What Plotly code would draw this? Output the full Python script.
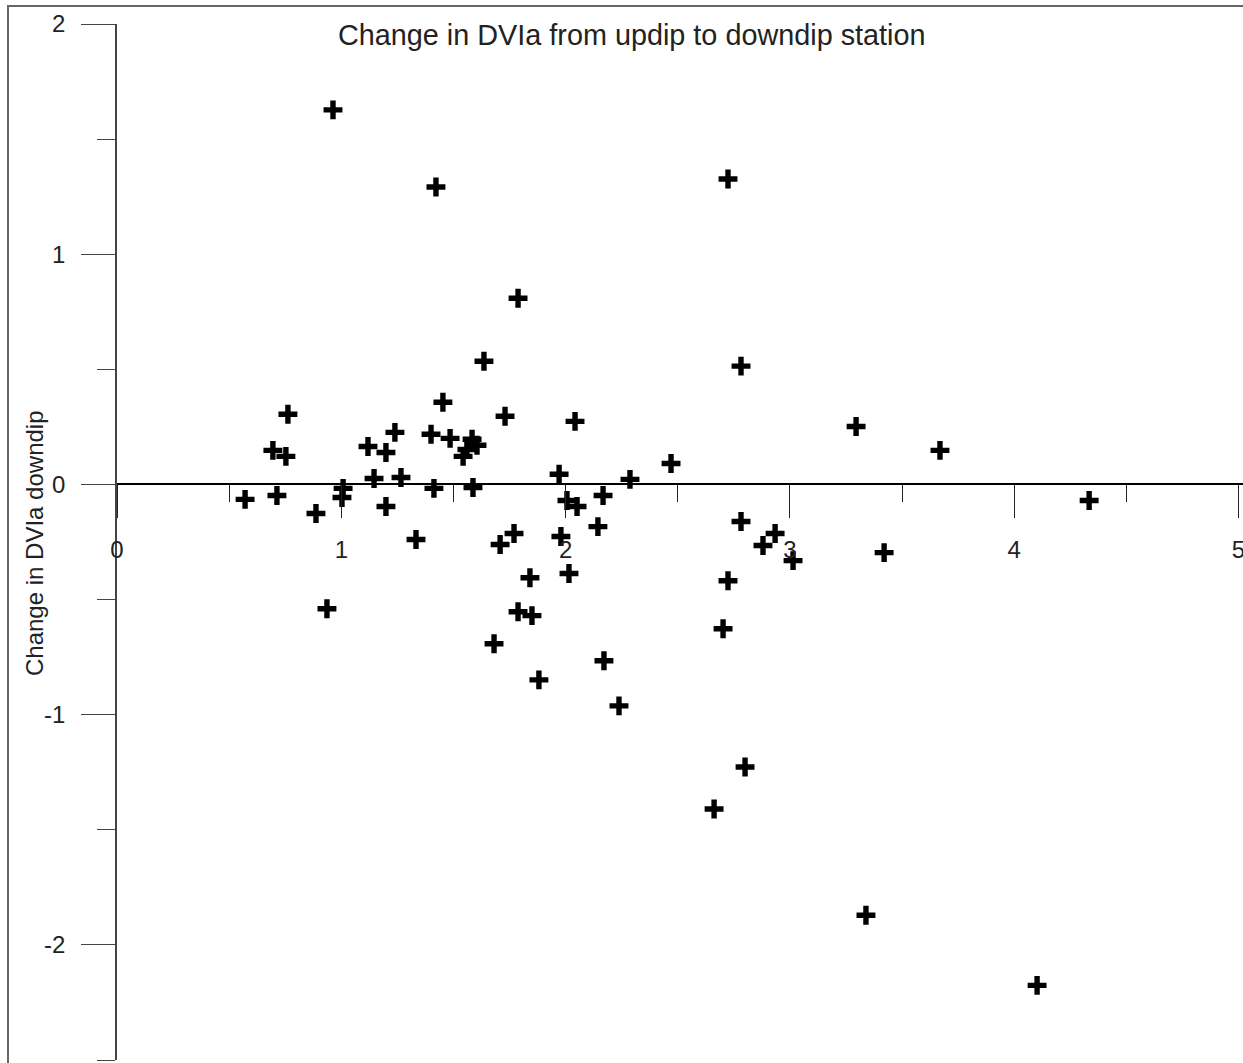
import plotly.graph_objects as go

# Data
x_vals = [0.963, 1.422, 2.724, 1.788, 1.636, 2.782, 0.762, 1.453, 1.730, 2.042,
          3.295, 0.695, 0.753, 1.119, 1.199, 1.239, 1.400, 1.485, 1.583, 1.605,
          1.560, 1.543, 3.669, 2.470, 1.971, 2.287, 1.146, 1.266, 1.008, 1.003,
          1.413, 1.587, 0.571, 0.713, 0.887, 1.199, 2.006, 2.051, 2.167, 2.144,
          4.334, 1.333, 1.708, 1.770, 1.979, 2.015, 1.841, 1.788, 1.850, 0.936,
          1.681, 2.171, 1.881, 2.238, 2.782, 2.880, 2.934, 3.014, 2.724, 2.702,
          3.420, 2.800, 2.662, 3.339, 4.102]
y_vals = [1.627, 1.292, 1.327, 0.809, 0.535, 0.514, 0.305, 0.357, 0.296, 0.274,
          0.252, 0.148, 0.122, 0.165, 0.139, 0.226, 0.218, 0.200, 0.196, 0.170,
          0.152, 0.122, 0.148, 0.091, 0.044, 0.022, 0.026, 0.030, -0.017, -0.057,
          -0.017, -0.013, -0.065, -0.048, -0.126, -0.096, -0.070, -0.096, -0.048, -0.183,
          -0.070, -0.239, -0.261, -0.213, -0.226, -0.387, -0.405, -0.553, -0.570, -0.540,
          -0.692, -0.766, -0.849, -0.962, -0.161, -0.265, -0.213, -0.331, -0.418, -0.627,
          -0.296, -1.227, -1.410, -1.871, -2.176]

x_ticks = [0, 1, 2, 3, 4, 5]
y_ticks = [-2, -1, 0, 1, 2]

title_text = "Change in DVIa from updip to downdip station"
y_title_text = "Change in DVIa downdip"

W, H = 1243, 1063
ML, MR, MT, MB = 117, 0, 24, 3
plot_w = W - ML - MR
plot_h = H - MT - MB
y_min, y_max = -2.5, 2.0
x_min, x_max = 0.0, 5.02

def px_to_paper_x(px):
    return (px - ML) / plot_w

def px_to_paper_y(py):
    return (H - MB - py) / plot_h

zero_pos = (0 - y_min) / (y_max - y_min)

font_family = "Liberation Sans, Arial, sans-serif"

fig = go.Figure()
fig.add_trace(go.Scatter(
    x=x_vals, y=y_vals, mode="markers",
    marker=dict(symbol="cross-thin", size=13.5, color="black",
                line=dict(color="black", width=5.4)),
    cliponaxis=False, showlegend=False, hoverinfo="x+y",
))

fig.update_layout(
    width=W, height=H,
    margin=dict(l=ML, r=MR, t=MT, b=MB, pad=0),
    paper_bgcolor="white", plot_bgcolor="white",
    font=dict(family=font_family, size=24, color="#222"),
    xaxis=dict(
        range=[x_min, x_max], anchor="free", position=zero_pos,
        tickvals=x_ticks, ticktext=[str(v) for v in x_ticks],
        ticks="outside", ticklen=33, tickwidth=1.3, tickcolor="#222",
        showline=True, linecolor="black", linewidth=1.5,
        minor=dict(dtick=0.5, tick0=0, ticks="outside", ticklen=17,
                   tickwidth=1.3, tickcolor="#222", showgrid=False),
        showgrid=False, zeroline=False, automargin=False,
        tickfont=dict(size=24, color="#222"), ticklabelstandoff=11,
        ticklabeloverflow="allow",
    ),
    yaxis=dict(
        range=[y_min, y_max],
        tickvals=y_ticks, ticktext=[str(v) for v in y_ticks],
        ticks="outside", ticklen=34, tickwidth=1.3, tickcolor="#444",
        showline=True, linecolor="#444", linewidth=1.8,
        minor=dict(dtick=0.5, tick0=0, ticks="outside", ticklen=18,
                   tickwidth=1.3, tickcolor="#444", showgrid=False),
        showgrid=False, zeroline=False, automargin=False,
        tickfont=dict(size=24, color="#222"), ticklabelstandoff=11,
        ticklabeloverflow="allow",
    ),
    shapes=[dict(type="rect", xref="paper", yref="paper",
                 x0=px_to_paper_x(8), x1=px_to_paper_x(W + 10),
                 y0=px_to_paper_y(H + 10), y1=px_to_paper_y(6),
                 line=dict(color="#666", width=2), fillcolor="rgba(0,0,0,0)",
                 layer="below")],
    annotations=[
        dict(text=title_text, xref="paper", yref="paper",
             x=px_to_paper_x(632), y=px_to_paper_y(35),
             xanchor="center", yanchor="middle", showarrow=False,
             font=dict(size=28.8, color="#222", family=font_family)),
        dict(text=y_title_text, xref="paper", yref="paper",
             x=px_to_paper_x(35), y=px_to_paper_y(543), textangle=-90,
             xanchor="center", yanchor="middle", showarrow=False,
             font=dict(size=24, color="#222", family=font_family)),
    ],
)

fig.write_html("out.html")
